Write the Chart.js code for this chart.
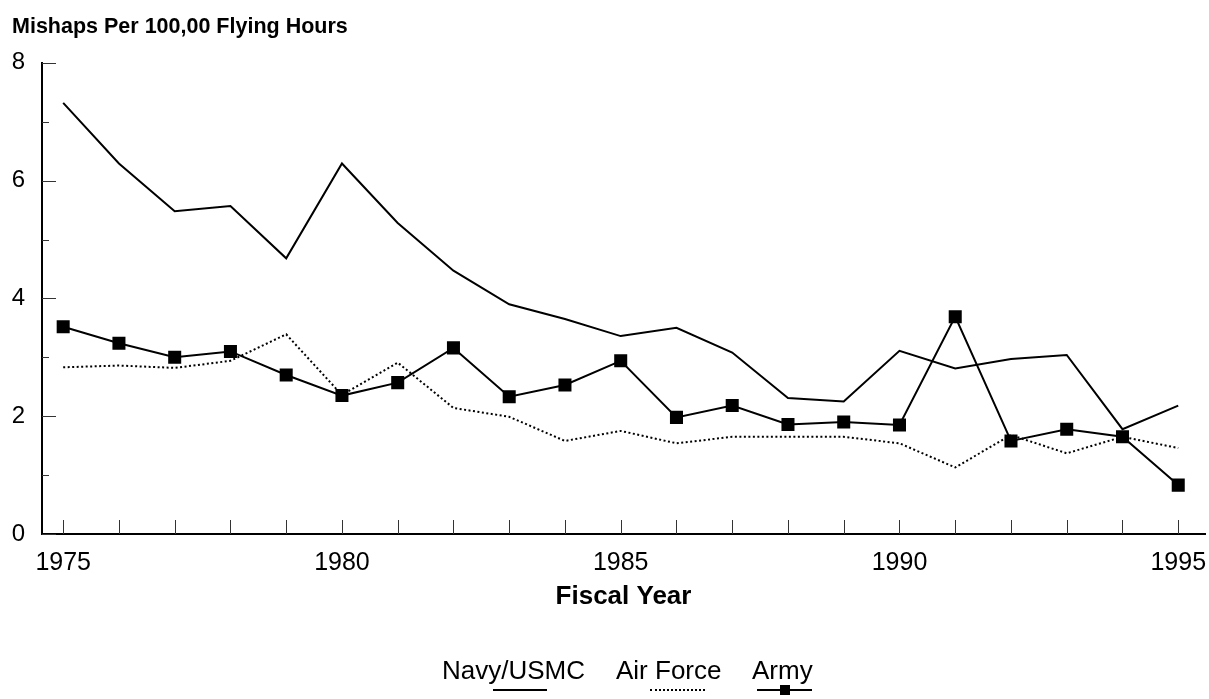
<!DOCTYPE html>
<html>
<head>
<meta charset="utf-8">
<script src="https://cdn.jsdelivr.net/npm/chart.js@4/dist/chart.umd.min.js"></script>
<style>
  body { margin: 0; background: #fff; font-family: "Liberation Sans", Arial, sans-serif; }
  #wrap { position: relative; width: 1209px; height: 699px; }
  #legend { position: absolute; left: 0; top: 655px; width: 1209px; height: 44px; }
  .item { position: absolute; top: 0; font-size: 26px; line-height: 30px; color: #000; white-space: nowrap; }
  .sample { position: absolute; top: 34px; height: 0; }
  .solid { border-top: 2px solid #000; }
  .dotted { border-top: 2px dotted #000; }
  .mark { position: absolute; width: 10px; height: 10px; background: #000; top: -6px; left: 23px; }
</style>
</head>
<body>
<div id="wrap">
  <canvas id="chart" width="1209" height="699"></canvas>
  <div id="legend">
    <div class="item" style="left:442px">Navy/USMC</div>
    <div class="item" style="left:616px">Air Force</div>
    <div class="item" style="left:752px">Army</div>
    <div class="sample solid" style="left:493px;width:54px"></div>
    <div class="sample dotted" style="left:650px;width:55px"></div>
    <div class="sample solid" style="left:757px;width:55px"><div class="mark"></div></div>
  </div>
</div>
<script>
const years = [1975, 1976, 1977, 1978, 1979, 1980, 1981, 1982, 1983, 1984, 1985,
  1986, 1987, 1988, 1989, 1990, 1991, 1992, 1993, 1994, 1995];
const navy = [7.32, 6.29, 5.48, 5.57, 4.68, 6.29, 5.28, 4.47, 3.90, 3.65, 3.36,
  3.50, 3.08, 2.31, 2.25, 3.11, 2.81, 2.97, 3.04, 1.78, 2.18];
const airForce = [2.83, 2.86, 2.82, 2.94, 3.39, 2.36, 2.91, 2.14, 1.99, 1.58, 1.75,
  1.54, 1.65, 1.65, 1.65, 1.54, 1.13, 1.68, 1.37, 1.65, 1.46];
const army = [3.52, 3.24, 3.00, 3.10, 2.70, 2.35, 2.57, 3.16, 2.33, 2.53, 2.94,
  1.98, 2.18, 1.86, 1.90, 1.85, 3.69, 1.58, 1.78, 1.65, 0.83];
const yTicks = [0, 1, 2, 3, 4, 5, 6, 7, 8];

const font = "'Liberation Sans', Arial, sans-serif";
const pts = (vals) => years.map((y, i) => ({ x: y, y: vals[i] }));

// inward tick marks on both axes
const innerTicks = {
  id: "innerTicks",
  afterDatasetsDraw(chart) {
    const { ctx, scales: { x, y } } = chart;
    ctx.save();
    ctx.strokeStyle = "#333";
    ctx.lineWidth = 1;
    ctx.beginPath();
    years.forEach((yr) => {
      const px = Math.round(x.getPixelForValue(yr)) + 0.5;
      ctx.moveTo(px, y.bottom);
      ctx.lineTo(px, y.bottom - 14);
    });
    yTicks.forEach((v) => {
      const py = Math.round(y.getPixelForValue(v)) + 0.5;
      ctx.moveTo(x.left, py);
      ctx.lineTo(x.left + (v % 2 === 0 ? 14 : 7), py);
    });
    ctx.stroke();
    ctx.restore();
  }
};

new Chart(document.getElementById("chart"), {
  type: "line",
  data: {
    datasets: [
      { label: "Navy/USMC", data: pts(navy), borderColor: "#000", borderWidth: 2, pointRadius: 0, tension: 0 },
      { label: "Air Force", data: pts(airForce), borderColor: "#000", borderWidth: 2, borderDash: [2, 2.5], pointRadius: 0, tension: 0 },
      { label: "Army", data: pts(army), borderColor: "#000", backgroundColor: "#000", borderWidth: 2,
        pointStyle: "rect", pointRadius: 7.8, tension: 0 }
    ]
  },
  options: {
    responsive: false,
    animation: false,
    layout: { autoPadding: false, padding: { left: 12, right: 4, top: 0, bottom: 88 } },
    plugins: {
      legend: { display: false },
      tooltip: { enabled: false },
      title: {
        display: true,
        text: "Mishaps Per 100,00 Flying Hours",
        align: "start",
        color: "#000",
        font: { family: font, size: 21.5, weight: "bold" },
        padding: { top: 14, bottom: 23 }
      }
    },
    scales: {
      x: {
        type: "linear",
        min: 1974.62,
        max: 1995.48,
        grid: { display: false, drawTicks: false },
        border: { display: true, color: "#000", width: 2 },
        afterFit(s) { s.height = 77; s.paddingLeft = 0; s.paddingRight = 0; },
        ticks: {
          stepSize: 1,
          includeBounds: false,
          autoSkip: false,
          maxRotation: 0,
          padding: 17,
          color: "#000",
          font: { family: font, size: 25, lineHeight: 1 },
          callback: (v) => (v % 5 === 0 ? String(v) : "")
        },
        title: {
          display: true,
          text: "Fiscal Year",
          color: "#000",
          font: { family: font, size: 26, weight: "bold", lineHeight: 1 },
          padding: { top: 8, bottom: 1 }
        }
      },
      y: {
        min: 0,
        max: 8,
        grid: { display: false, drawTicks: false },
        border: { display: true, color: "#000", width: 2 },
        afterFit(s) { s.width = 30; s.paddingTop = 0; s.paddingBottom = 0; },
        ticks: {
          stepSize: 2,
          padding: 17,
          color: "#000",
          font: { family: font, size: 24 }
        }
      }
    }
  },
  plugins: [innerTicks]
});
</script>
</body>
</html>
